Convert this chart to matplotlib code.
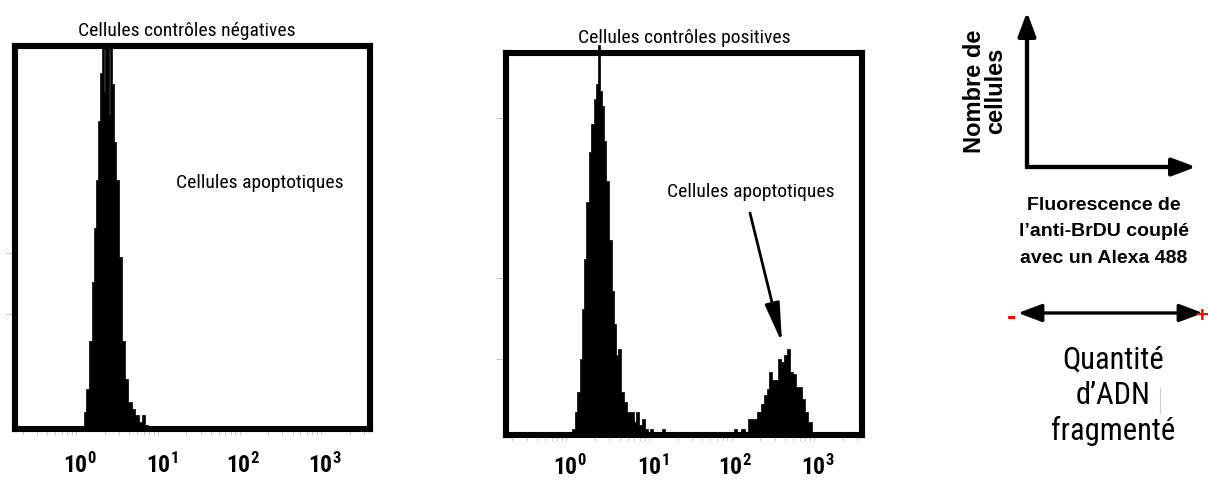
import numpy as np
import matplotlib
matplotlib.use("Agg")
import matplotlib.pyplot as plt
from matplotlib import font_manager
from matplotlib.ticker import LogLocator, NullFormatter

# pick a narrow face if one is installed
names = {f.name for f in font_manager.fontManager.ttflist}
narrow = "DejaVu Sans"
for cand in ["Liberation Sans Narrow", "Roboto Condensed", "Open Sans Condensed", "Liberation Sans"]:
    if cand in names:
        narrow = cand
        break
bold_face = "Liberation Sans" if "Liberation Sans" in names else "DejaVu Sans"

plt.rcParams["font.family"] = [narrow, "DejaVu Sans"]
plt.rcParams["mathtext.fontset"] = "custom"
plt.rcParams["mathtext.rm"] = narrow + ":bold"
plt.rcParams["mathtext.it"] = narrow + ":bold"
plt.rcParams["mathtext.bf"] = narrow + ":bold"

# ---- data (log10 of fluorescence channel, cell count in % of scale) ----
neg_log = [0.000, 0.037, 0.061, 0.086, 0.122, 0.159, 0.184, 0.208, 0.233, 0.257,
           0.282, 0.300, 0.318, 0.343, 0.367, 0.379, 0.404, 0.428, 0.453, 0.490,
           0.526, 0.563, 0.612, 0.649, 0.698, 0.734, 0.771, 0.808, 0.857]
neg_count = [0, 0, 4.5, 10.5, 23, 38.4, 52.6, 65, 80.5, 93,
             104, 88, 104, 104, 82, 100, 90, 75, 65, 45,
             23, 13, 7, 5.3, 3.7, 1.8, 3.7, 1, 0]

pos_log = [0.000, 0.036, 0.073, 0.097, 0.133, 0.157, 0.181, 0.206, 0.242, 0.266,
           0.302, 0.327, 0.351, 0.363, 0.399, 0.423, 0.448, 0.484, 0.520, 0.544,
           0.569, 0.593, 0.629, 0.665, 0.702, 0.750, 0.786, 0.810, 0.847, 0.883,
           0.931, 0.956, 0.980, 1.028, 1.101, 1.125, 1.161, 1.972, 1.996, 2.032,
           2.093, 2.129, 2.177, 2.238, 2.286, 2.335, 2.359, 2.395, 2.419, 2.456,
           2.492, 2.528, 2.564, 2.601, 2.637, 2.673, 2.710, 2.746, 2.782, 2.818,
           2.855, 2.903, 2.939]
pos_count = [0, 1.6, 6, 11.3, 20, 33, 46, 61, 74, 81.5,
             88, 92, 102, 90, 86, 77, 66.5, 51, 37.6, 29,
             21, 22.6, 11.3, 8.7, 6, 6, 3.4, 6, 2.6, 4.2,
             1.6, 0, 1.6, 0, 0, 1.6, 0, 0, 1.6, 0,
             1.6, 0, 4.2, 4.2, 6, 8.2, 10.5, 12, 16.6, 14.5,
             14.5, 20, 19, 21, 22.6, 16.6, 16, 12.6, 12.6, 9.5,
             6, 3.4, 0]

tick_vals = [1, 10, 100, 1000]
tick_labels = [r"$10^{0}$", r"$10^{1}$", r"$10^{2}$", r"$10^{3}$"]

fig = plt.figure(figsize=(12.08, 4.83), dpi=100)

def panel(rect, logs, counts, xlim_log, title, clip, yt, pad):
    ax = fig.add_axes(rect)
    ax.fill_between(10 ** np.array(logs), counts, step="mid", facecolor="black",
                    edgecolor="black", lw=0.5, clip_on=clip)
    ax.set_xscale("log")
    ax.set_xlim(10 ** xlim_log[0], 10 ** xlim_log[1])
    ax.set_ylim(0, 100)
    for s in ax.spines.values():
        s.set_linewidth(4.4)
        s.set_zorder(5)
    ax.set_xticks(tick_vals)
    ax.set_xticklabels(tick_labels, fontsize=17)
    ax.xaxis.set_minor_locator(LogLocator(base=10, subs=np.arange(2, 10), numticks=20))
    ax.xaxis.set_minor_formatter(NullFormatter())
    ax.tick_params(axis="x", which="major", length=0, pad=pad)
    ax.tick_params(axis="x", which="minor", length=4.5, width=0.5, color="0.72")
    ax.set_yticks(yt)
    ax.set_yticklabels([])
    ax.tick_params(axis="y", length=7, width=0.7, color="0.78")
    ax.set_title(title, fontsize=14, pad=7)
    return ax

ax1 = panel([0.0124, 0.1118, 0.2939, 0.7930], neg_log, neg_count, (-0.796, 3.55),
            "Cellules contrôles négatives", True, [30, 46], 17)
ax1.title.set_position((0.485, 1.0))
ax1.text(10 ** 2.203, 64.2, "Cellules apoptotiques", fontsize=14, ha="center", va="center")

ax2 = panel([0.4189, 0.0994, 0.2947, 0.7909], pos_log, pos_count, (-0.774, 3.532),
            "Cellules contrôles positives", False, [20, 41, 83], 14)
ax2.title.set_position((0.50, 1.0))
ax2.text(10 ** 2.19, 63.6, "Cellules apoptotiques", fontsize=14, ha="center", va="center")
ax2.annotate("", xy=(10 ** 2.564, 24.1), xytext=(10 ** 2.177, 58.1),
             arrowprops=dict(arrowstyle="-|>,head_length=1.6,head_width=0.3",
                             lw=2, color="black", mutation_scale=15,
                             shrinkA=0, shrinkB=0))

# ---- legend panel on the right, in pixel coordinates ----
ax3 = fig.add_axes([0, 0, 1, 1])
ax3.set_xlim(0, 1208)
ax3.set_ylim(483, 0)
ax3.axis("off")

ax3.plot([1027, 1027, 1185], [25, 167, 167], color="black", lw=3,
         solid_joinstyle="miter")
head = dict(arrowstyle="-|>,head_length=1.2,head_width=0.45", lw=3,
            color="black", mutation_scale=12, shrinkA=0, shrinkB=0)
ax3.annotate("", xy=(1027, 12), xytext=(1027, 167), arrowprops=head)
ax3.annotate("", xy=(1196, 167), xytext=(1027, 167), arrowprops=head)

ax3.text(985, 91, "Nombre de\ncellules", rotation=90, ha="center", va="center",
         fontsize=17, fontweight="bold", family=bold_face, linespacing=0.9)
ax3.text(1104, 232, "Fluorescence de\nl\u2019anti-BrDU couplé\navec un Alexa 488",
         ha="center", va="center", fontsize=14, fontweight="bold",
         family=bold_face, linespacing=1.72)

ax3.annotate("", xy=(1018, 313), xytext=(1203, 313),
             arrowprops=dict(arrowstyle="<|-|>,head_length=1.2,head_width=0.45",
                             lw=2.4, color="black", mutation_scale=12,
                             shrinkA=0, shrinkB=0))
ax3.text(1011, 318, "-", color="red", fontsize=20, fontweight="bold",
         ha="center", va="center", family=bold_face)
ax3.text(1202, 316, "+", color="red", fontsize=16, fontweight="bold",
         ha="center", va="center", family=bold_face)

ax3.text(1113, 396, "Quantité\nd\u2019ADN\nfragmenté", ha="center", va="center",
         fontsize=22, linespacing=1.27)
ax3.plot([1160, 1160], [388, 413], color="0.8", lw=0.8)

fig.savefig("out.png", dpi=100)
